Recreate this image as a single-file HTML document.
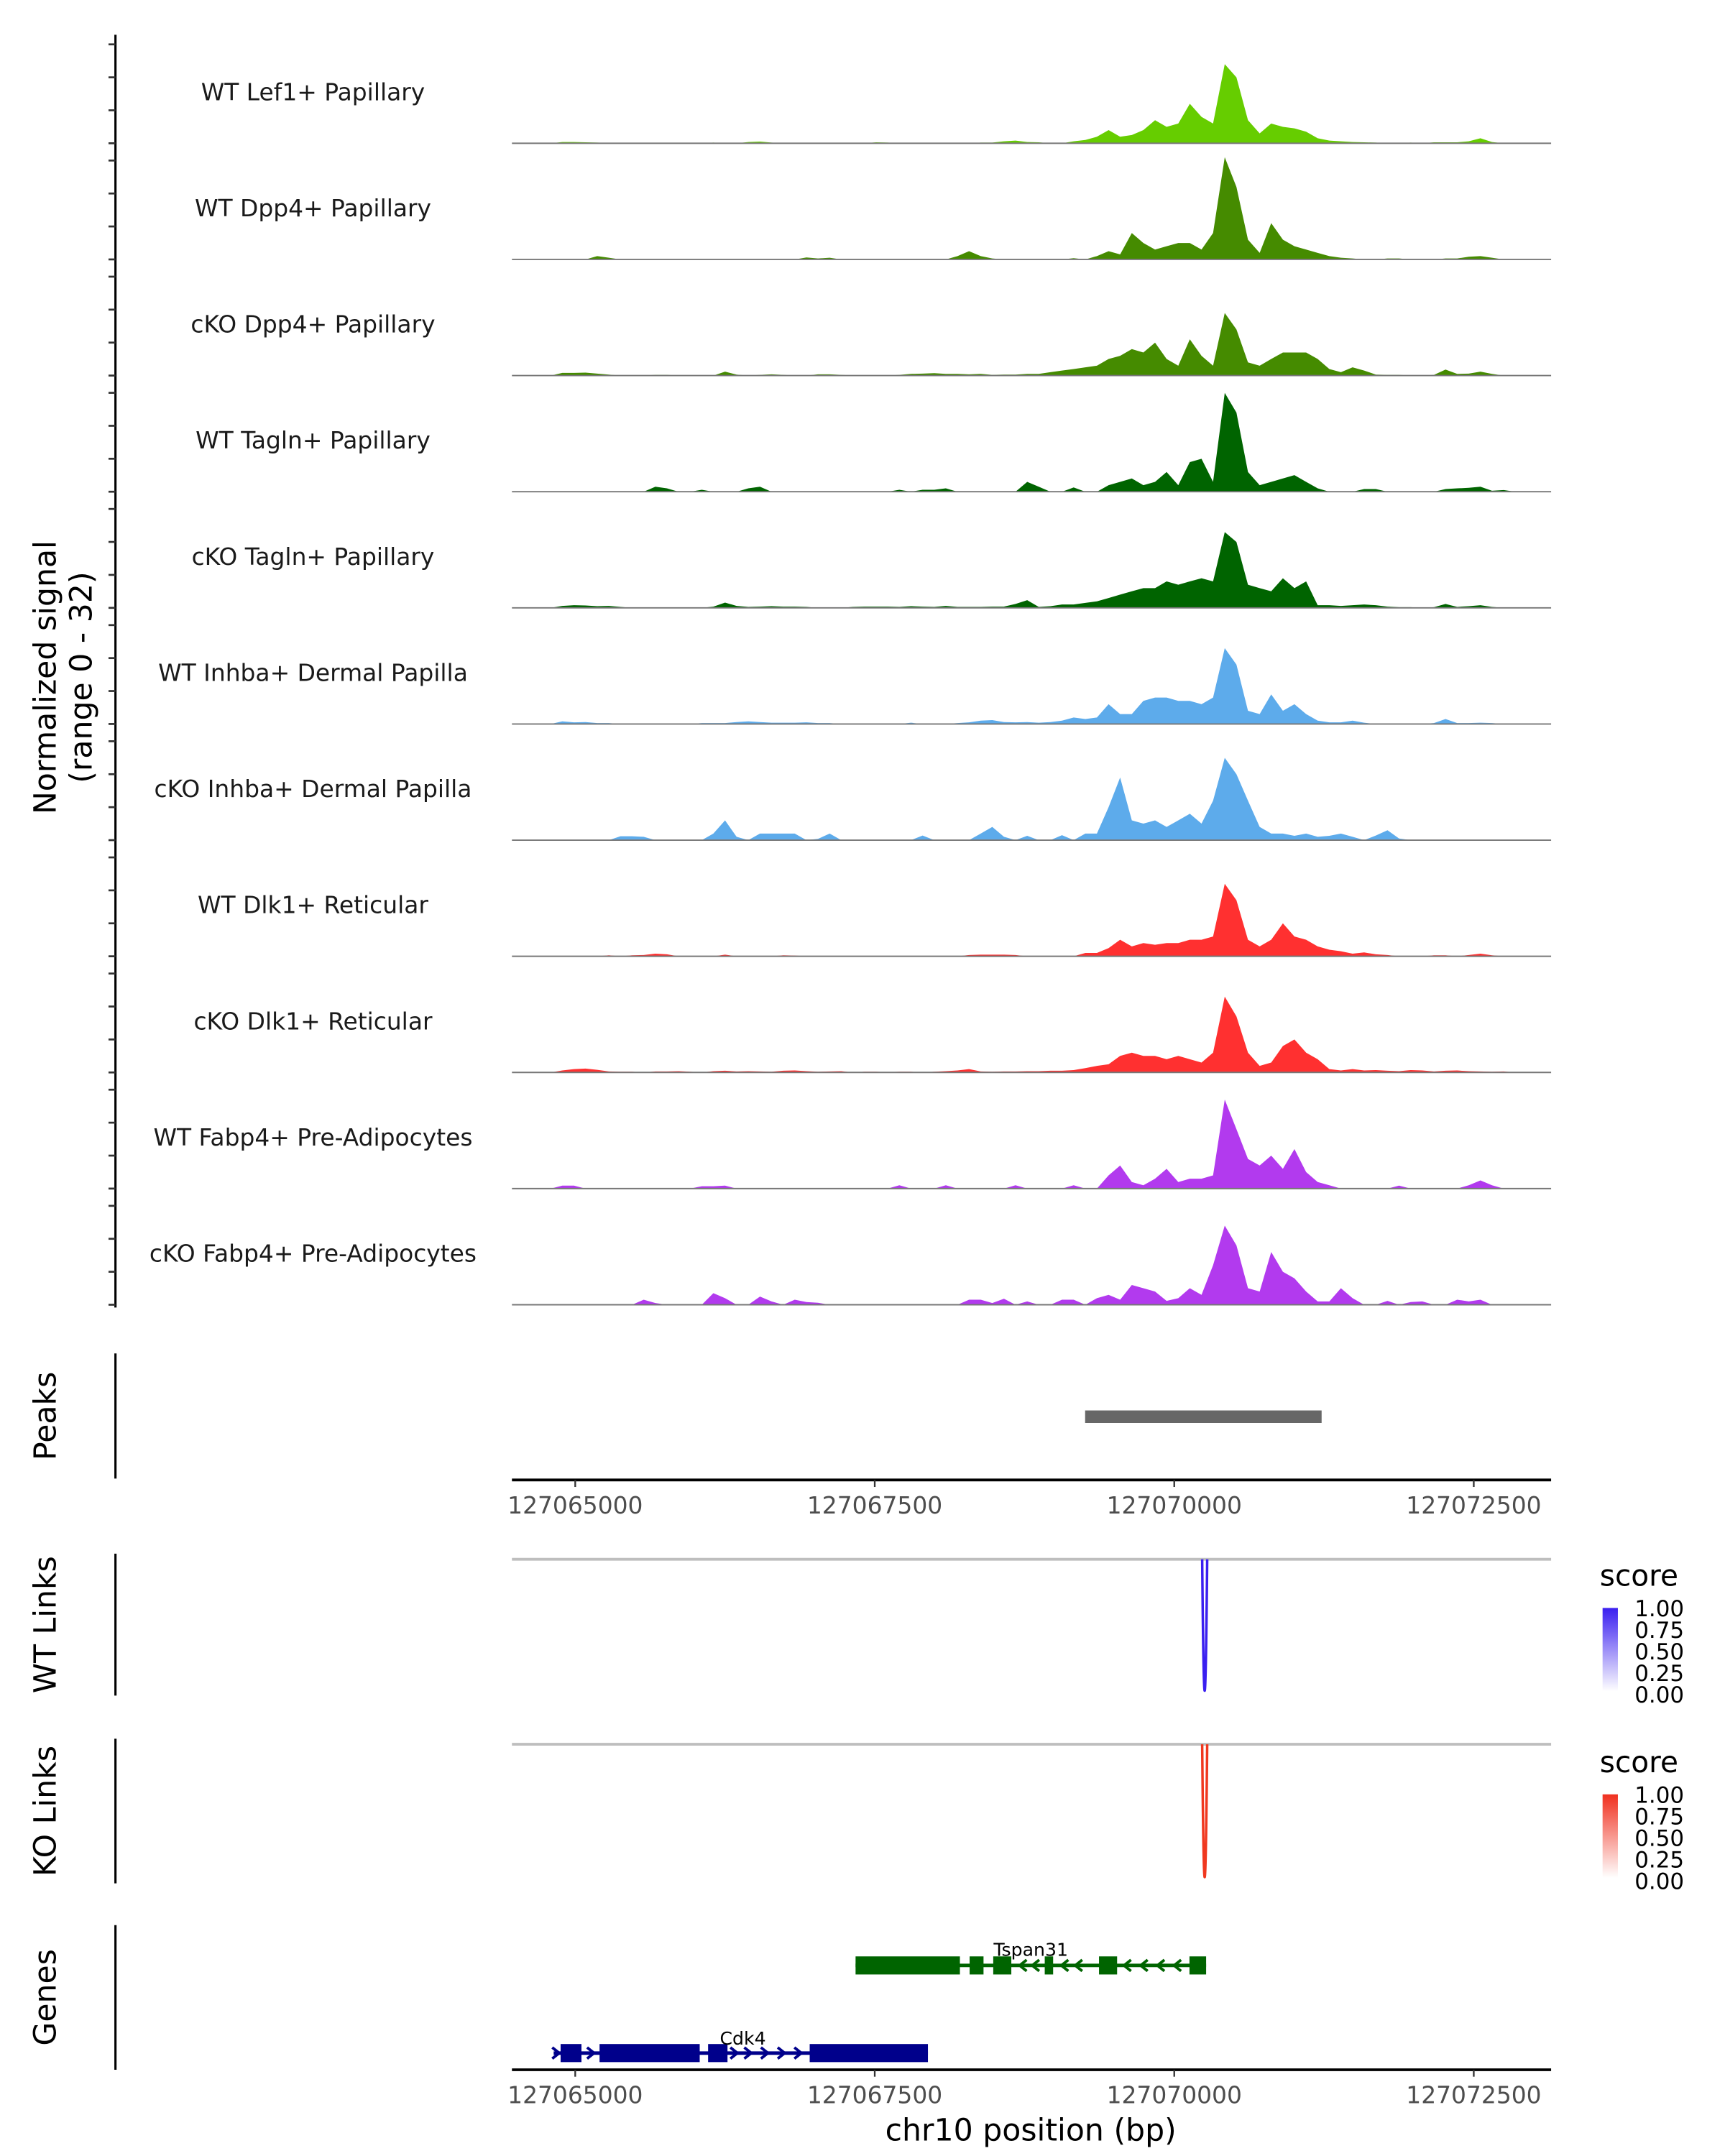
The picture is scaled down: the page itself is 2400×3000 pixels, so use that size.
<!DOCTYPE html>
<html><head><meta charset="utf-8"><style>
html,body{margin:0;padding:0;background:#fff;}
svg{display:block;font-family:"DejaVu Sans","Liberation Sans",sans-serif;}
</style></head><body>
<svg id="chart" width="2400" height="3000" viewBox="0 0 1240 1550" xmlns="http://www.w3.org/2000/svg">
<defs>
<linearGradient id="gBlue" x1="0" y1="1" x2="0" y2="0"><stop offset="0" stop-color="#ffffff"/><stop offset="1" stop-color="#3a1ff0"/></linearGradient>
<linearGradient id="gRed" x1="0" y1="1" x2="0" y2="0"><stop offset="0" stop-color="#ffffff"/><stop offset="1" stop-color="#f0301f"/></linearGradient>
</defs>
<g id="tracks"></g>
<text transform="translate(40,487) rotate(-90)" text-anchor="middle" font-size="22" fill="#000">Normalized signal</text>
<text transform="translate(66,487) rotate(-90)" text-anchor="middle" font-size="22" fill="#000">(range 0 - 32)</text>
<g id="lower"></g>
</svg>
<script>
const binStart = 127064650;
const binStep = 97;
const trackNames = ["WT Lef1+ Papillary","WT Dpp4+ Papillary","cKO Dpp4+ Papillary","WT Tagln+ Papillary","cKO Tagln+ Papillary","WT Inhba+ Dermal Papilla","cKO Inhba+ Dermal Papilla","WT Dlk1+ Reticular","cKO Dlk1+ Reticular","WT Fabp4+ Pre-Adipocytes","cKO Fabp4+ Pre-Adipocytes"];
const trackColors = ["#66cd00","#458b00","#458b00","#006400","#006400","#5dabeb","#5dabeb","#ff3030","#ff3030","#b23aee","#b23aee"];
const sLef1WT = [0,0,.4,.4,.3,.2,.1,0,0,0, .1,0,0,0,0,.2,0,0,.4,.5, .2,0,0,0,0,.1,0,0,0,.3, .2,0,0,0,0,0,0,0,.2,.2, .6,.8,.4,.3,0,0,.6,1,2,4, 2,2.5,4,7,5,6,12,8,6,24, 20,7,3,6,5,4.5,3.5,1.5,.8,.6, .4,.3,.2,0,0,.2,0,.3,.3,.3, .6,1.5,.4,0,0];
const sDpp4WT = [0,0,0,0,0,1,.5,0,0,0, 0,0,0,0,0,0,0,0,0,0, 0,0,0,.6,.3,.5,0,0,0,0, 0,0,0,0,0,0,1,2.5,1,.3, 0,0,0,0,0,0,.4,0,1,2.5, 1.5,8,5,3,4,5,5,3,8,31, 22,6,2,11,6,4,3,2,1,.5, .3,0,0,.3,.3,0,0,0,.3,.3, .8,1,.5,0,0];
const sDpp4KO = [0,0,.8,.8,.9,.6,.3,0,0,0, .2,.2,0,0,0,0,1.2,.3,0,.2, .4,.2,0,0,.4,.4,.2,0,0,0, 0,.2,.5,.6,.7,.5,.5,.4,.5,.2, .3,.3,.5,.5,1,1.5,2,2.5,3,5, 6,8,7,10,5,3,11,6,3,19, 14,4,3,5,7,7,7,5,2,1, 2.5,1.5,.3,.2,.2,0,0,.2,1.8,.5, .6,1.2,.5,0,0];
const sTaglnWT = [0,0,0,0,0,0,0,0,0,0, 1.5,1,0,0,.6,0,0,0,1,1.5, 0,0,0,0,0,0,0,0,0,0, 0,.6,0,.6,.6,1,0,0,0,0, 0,0,3,1.5,0,0,1.3,0,0,2, 3,4,2,3,6,2,9,10,3,30, 24,6,2,3,4,5,3,1,0,0, 0,.8,.8,0,0,0,0,0,.8,1, 1.2,1.5,.3,.5,0];
const sTaglnKO = [0,0,.6,.8,.7,.5,.6,.3,0,0, 0,0,0,0,0,.4,1.6,.6,.3,.4, .5,.4,.4,.3,0,0,0,.3,.4,.4, .4,.3,.5,.4,.3,.6,.3,.3,.3,.4, .4,1.2,2.3,.3,.5,1,1,1.5,2,3, 4,5,6,6,8,7,8,9,8,23, 20,7,6,5,9,6,8,.8,.8,.6, .8,1,.8,.4,.2,.2,0,.2,1.2,.3, .5,.8,.3,0,0];
const sInhbaWT = [0,0,.8,.5,.6,.3,.3,0,0,0, 0,0,0,0,.3,.3,.3,.6,.8,.6, .4,.4,.4,.5,.3,.3,0,0,0,0, 0,0,.4,0,0,0,.3,.5,1,1.2, .6,.5,.6,.4,.6,1,2,1.5,2,6, 3,3,7,8,8,7,7,6,8,23, 18,4,3,9,4,6,3,1,.5,.5, 1,.4,0,0,0,0,0,.3,1.5,.3, .3,.4,.3,0,0];
const sInhbaKO = [0,0,0,0,0,0,0,1.2,1.2,1, 0,0,0,0,0,2,6,1,0,2, 2,2,2,0,.4,2,0,0,0,0, 0,0,0,1.4,0,0,0,0,2,4, 1,0,1.3,0,0,1.5,0,2,2,10, 19,6,5,6,4,6,8,5,12,25, 20,12,4,2,2,1.3,2,1,1.3,2, 1,0,1.4,3,.5,0,0,0,0,0, 0,0,0,0,0];
const sDlk1WT = [0,0,0,0,0,0,.3,0,.3,.4, .8,.6,0,0,0,0,.5,0,0,0, 0,.3,.2,0,0,0,0,0,0,0, 0,0,0,0,0,0,0,.4,.5,.5, .5,.4,0,0,0,0,0,1,1,2.5, 5,3,4,3.5,4,4,5,5,6,22, 17,5,3,5,10,6,5,3,2,1.5, .8,1.2,.6,.4,0,0,0,.3,.3,0, .4,.8,.3,0,0];
const sDlk1KO = [0,0,.6,1,1.2,.8,.3,.2,.2,0, .3,.3,.4,.2,0,.4,.5,.3,.4,.3, .2,.5,.6,.4,.2,.3,.4,0,.2,.2, .1,.2,.2,0,.2,.4,.6,1,.3,.2, .3,.3,.4,.4,.5,.5,.7,1.3,2,2.5, 5,6,5,5,4,5,4,3,6,23, 17,6,2,3,8,10,6,4,1,.6, 1,.6,.7,.5,.4,.7,.6,.3,.5,.6, .4,.3,.2,.3,0];
const sFabp4WT = [0,0,.9,.9,0,0,0,0,0,0, 0,0,0,0,.7,.7,.9,0,0,0, 0,0,0,0,0,0,0,0,0,0, 0,1,0,0,0,1,0,0,0,0, 0,1,0,0,0,0,1,0,0,4, 7,2,1,3,6,2,3,3,4,27, 18,9,7,10,6,12,5,2,1,0, 0,0,0,0,.9,0,0,0,0,0, 1,2.5,1,0,0];
const sFabp4KO = [0,0,0,0,0,0,0,0,0,1.5, .5,0,0,0,0,3.5,2,0,0,2.5, 1,0,1.5,.8,.6,0,0,0,0,0, 0,0,0,0,0,0,0,1.5,1.5,.5, 1.8,0,1,0,0,1.5,1.5,0,2,3, 1.5,6,5,4,1.2,2,5,3,12,24, 18,5,4,16,10,8,4,1,1,5, 2,0,0,1.2,0,.8,1,0,0,1.5, 1,1.5,0,0,0];
const trackValues = [sLef1WT,sDpp4WT,sDpp4KO,sTaglnWT,sTaglnKO,sInhbaWT,sInhbaKO,sDlk1WT,sDlk1KO,sFabp4WT,sFabp4KO];
const xTicks = [127065000,127067500,127070000,127072500];
const peakStarts = [127069256];
const peakEnds = [127071230];
const wtLinkPos = [127070254];
const koLinkPos = [127070254];
const legendTicks = ["1.00","0.75","0.50","0.25","0.00"];
const tspanExonStarts = [127067340,127068292,127068489,127068919,127069372,127070127];
const tspanExonEnds = [127068211,127068408,127068640,127068989,127069523,127070266];
const tspanArrows = [127068733,127068838,127069081,127069197,127069604,127069743,127069883,127070022];
const cdkExonStarts = [127064878,127065203,127066109,127066957];
const cdkExonEnds = [127065052,127066039,127066271,127067944];
const cdkArrows = [127064843,127065134,127066330,127066446,127066585,127066725,127066864];

const NS="http://www.w3.org/2000/svg";
function X(bp){return 413.5+(bp-127065000)*0.08612;}
const unitPx=2.37, trackTop0=103, trackGap=83.5, plotL=368, plotR=1115;
function mk(tag,attrs,parent){const e=document.createElementNS(NS,tag);for(const k in attrs)e.setAttribute(k,attrs[k]);parent.appendChild(e);return e;}
const tg=document.getElementById('tracks');
const axL=mk('line',{x1:83,y1:25,x2:83,y2:940,stroke:'#000','stroke-width':1.6},tg);


trackNames.forEach((name,t)=>{
  const base=trackTop0+t*trackGap;
  for(let k=0;k<4;k++){
    const tk=mk('line',{x1:78,x2:83,y1:base-k*10*unitPx,y2:base-k*10*unitPx,stroke:'#333','stroke-width':1.4},tg);
    
    
  }
  const vals=trackValues[t];
  let d='M'+X(binStart)+','+base;
  vals.forEach((v,i)=>{const x=X(binStart+i*binStep+binStep/2);d+=' L'+x.toFixed(1)+','+(base-v*unitPx).toFixed(1);});
  d+=' L'+X(binStart+vals.length*binStep)+','+base+' Z';
  const a=mk('path',{d:d,fill:trackColors[t]},tg);
  
  
  const bl=mk('line',{x1:plotL,x2:plotR,y1:base,y2:base,stroke:'#777','stroke-width':1},tg);
  
  
  const lb=mk('text',{x:225,y:base-31,'text-anchor':'middle','font-size':17,fill:'#1a1a1a'},tg);
  lb.textContent=name;
  
  
});
const lg=document.getElementById('lower');
function vline(y1,y2,name){const l=mk('line',{x1:83,x2:83,y1:y1,y2:y2,stroke:'#000','stroke-width':1.6},lg);}
function rtitle(txt,y,name){const e=mk('text',{transform:'translate(40,'+y+') rotate(-90)','text-anchor':'middle','font-size':22,fill:'#000'},lg);e.textContent=txt;}
function xaxis(y,name){
  const l=mk('line',{x1:plotL,x2:plotR,y1:y,y2:y,stroke:'#000','stroke-width':2},lg);
  
  
  xTicks.forEach(v=>{
    const t=mk('line',{x1:X(v),x2:X(v),y1:y,y2:y+5,stroke:'#333','stroke-width':1.2},lg);
    
    
    const tx=mk('text',{x:X(v),y:y+24,'text-anchor':'middle','font-size':17,fill:'#4d4d4d'},lg);
    tx.textContent=v;
    
    
  });
}
// Peaks
vline(973,1063,'peaks-axis-line');rtitle('Peaks',1018,'peaks-title');
peakStarts.forEach((s,i)=>{const r=mk('rect',{x:X(s),y:1014,width:X(peakEnds[i])-X(s),height:9,fill:'#676767'},lg);});
xaxis(1064,'peaks-x-axis');
// Links
function links(top,bot,pos,color,grad,title,name,legY){
  vline(top-4,bot+4,name+'-axis-line');rtitle(title,(top+bot)/2,name+'-title');
  const g=mk('line',{x1:plotL,x2:plotR,y1:top,y2:top,stroke:'#bebebe','stroke-width':2},lg);
  
  
  pos.forEach(p=>{const x=X(p);const pth=mk('path',{d:`M${x-1.8},${top} Q${x},${bot+95} ${x+1.8},${top}`,fill:'none',stroke:color,'stroke-width':1.8},lg);});
  const st=mk('text',{x:1150,y:legY,'font-size':21,fill:'#000'},lg);st.textContent='score';
  
  
  const bar=mk('rect',{x:1152,y:legY+16,width:11,height:60,fill:'url(#'+grad+')'},lg);
  
  
  legendTicks.forEach((t,i)=>{const tx=mk('text',{x:1175,y:legY+22+i*15.5,'font-size':16,fill:'#000'},lg);tx.textContent=t;});
}
links(1121,1215,wtLinkPos,'#3a1ff0','gBlue','WT Links','wt-links',1140);
links(1254,1350,koLinkPos,'#f0381f','gRed','KO Links','ko-links',1274);
// Genes
vline(1384,1488,'genes-axis-line');rtitle('Genes',1436,'genes-title');
function gene(starts,ends,arrows,y,color,dir,label,lx,ly,name){
  const ln=mk('line',{x1:X(starts[0])-(dir>0?5:0),x2:X(ends[ends.length-1]),y1:y,y2:y,stroke:color,'stroke-width':2.5},lg);
  
  
  starts.forEach((s,i)=>{const r=mk('rect',{x:X(s),y:y-6.5,width:X(ends[i])-X(s),height:13,fill:color},lg);});
  arrows.forEach(a=>{const x=X(a);const p=mk('path',{d:dir>0?`M${x-3},${y-4} L${x+2},${y} L${x-3},${y+4}`:`M${x+3},${y-4} L${x-2},${y} L${x+3},${y+4}`,fill:'none',stroke:color,'stroke-width':2},lg);});
  const t=mk('text',{x:lx,y:ly,'text-anchor':'middle','font-size':13,fill:'#000'},lg);t.textContent=label;
  
  
}
gene(tspanExonStarts,tspanExonEnds,tspanArrows,1413,'#006400',-1,'Tspan31',741,1406,'tspan31');
gene(cdkExonStarts,cdkExonEnds,cdkArrows,1476,'#00008b',1,'Cdk4',534,1470,'cdk4');
xaxis(1488,'genes-x-axis');
const xt=mk('text',{x:741,y:1539,'text-anchor':'middle','font-size':22,fill:'#000'},lg);xt.textContent='chr10 position (bp)';


</script>
</body></html>
